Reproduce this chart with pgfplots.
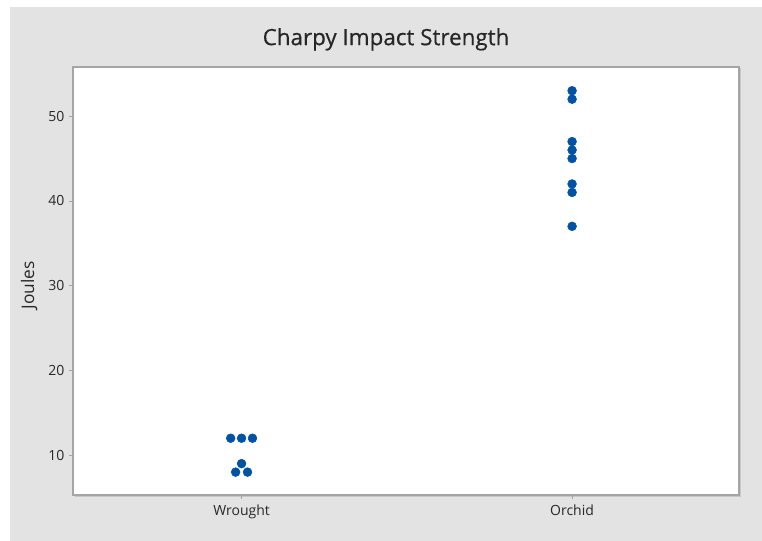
\documentclass[border=0pt]{standalone}
\usepackage{fontspec}
\setmainfont{Open Sans}
\newfontfamily\titlefont[FakeBold=0.5]{Open Sans}
\usepackage{pgfplots}
\pgfplotsset{compat=1.18}
\definecolor{bggray}{RGB}{227,227,227}
\definecolor{dotblue}{RGB}{0,82,165}
\definecolor{framegray}{RGB}{165,165,165}
\definecolor{txt}{RGB}{40,40,40}

\begin{document}
\begin{tikzpicture}
% page and panel background
\fill[white] (0,0) rectangle (571.5pt,405.75pt);
\fill[bggray] (7.5pt,0) rectangle (571.5pt,400.5pt);
% soft shadow on right and bottom of the frame
\draw[black!22, line width=1pt] (555.5pt,354.5pt) -- (555.5pt,33.3pt) -- (56pt,33.3pt);
\begin{axis}[
    at={(54.75pt,34.5pt)}, anchor=south west,
    scale only axis, width=499.5pt, height=321pt,
    xmin=0.49, xmax=2.505,
    ymin=5.3, ymax=55.8,
    xtick={1,2}, xticklabels={Wrought,Orchid},
    ytick={10,20,30,40,50},
    tick pos=left, tick align=outside,
    major tick length=3pt,
    tick style={framegray, line width=0.6pt},
    axis line style={framegray, line width=0.8pt},
    axis background/.style={fill=white},
    /pgf/number format/assume math mode=true,
    tick label style={font=\fontsize{10.5}{12}\selectfont, text=txt},
    xticklabel style={yshift=-1pt},
    ylabel={Joules},
    ylabel style={font=\fontsize{13}{15}\selectfont, text=txt,
        at={(rel axis cs:-0.066,0.49)}, anchor=center},
    title={Charpy Impact Strength},
    title style={font=\titlefont\fontsize{16.8}{19}\selectfont, text=black!85,
        at={(rel axis cs:0.47,1.046)}, anchor=center},
]
\addplot[only marks, mark=*, mark size=3.3pt, draw=dotblue, fill=dotblue]
    coordinates {(0.967,12)(1,12)(1.033,12)(1,9)(0.982,8)(1.018,8)};
\addplot[only marks, mark=*, mark size=3.3pt, draw=dotblue, fill=dotblue]
    coordinates {(2,53)(2,52)(2,47)(2,46)(2,45)(2,42)(2,41)(2,37)};
\end{axis}
\end{tikzpicture}
\end{document}
